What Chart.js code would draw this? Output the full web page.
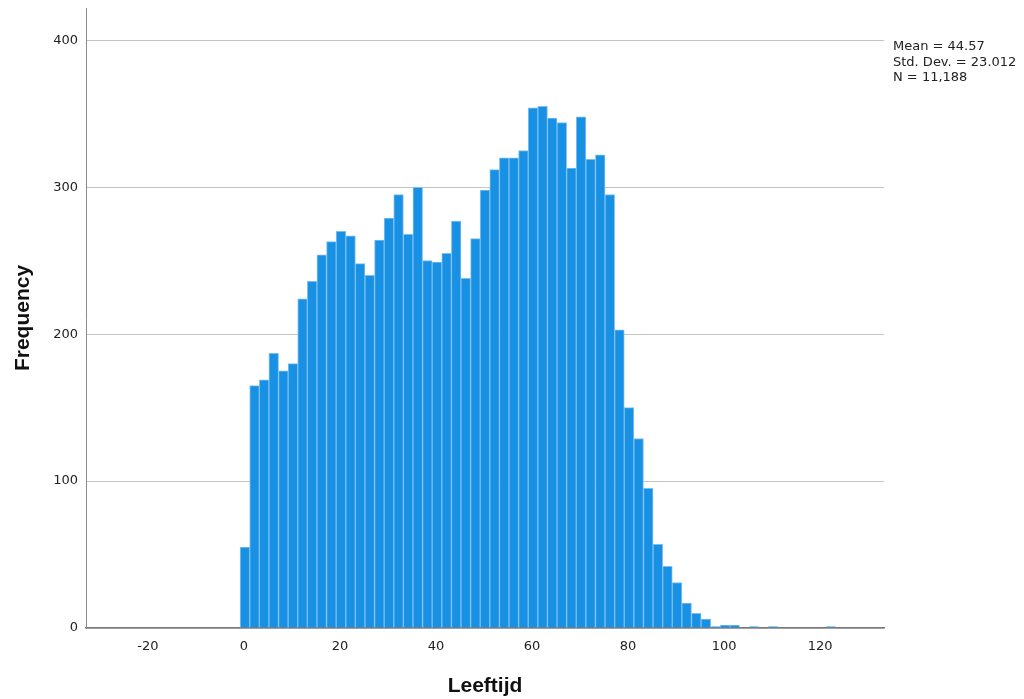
<!DOCTYPE html>
<html>
<head>
<meta charset="utf-8">
<title>Leeftijd</title>
<script src="https://cdn.jsdelivr.net/npm/chart.js@4.4.1/dist/chart.umd.min.js"></script>
<style>
    html, body { margin: 0; padding: 0; background: #fff; }
    #wrap { width: 1024px; height: 699px; position: relative; }
</style>
</head>
<body>
<div id="wrap"><canvas id="hist"></canvas></div>
<script>
// Age histogram (bins of 2 years)
const binStart = -0.8;
const binWidth = 2;
const counts = [
    55, 165, 169, 187, 175, 180, 224, 236, 254, 263,
    270, 267, 248, 240, 264, 279, 295, 268, 300, 250,
    249, 255, 277, 238, 265, 298, 312, 320, 320, 325,
    354, 355, 347, 344, 313, 348, 319, 322, 295, 203,
    150, 129, 95, 57, 42, 31, 17, 10, 6, 1,
    2, 2, 0, 1, 0, 1, 0, 0, 0, 0,
    0, 1
];
const xTicks = [-20, 0, 20, 40, 60, 80, 100, 120];
const yTicks = [0, 100, 200, 300, 400];
const stats = ['Mean = 44.57', 'Std. Dev. = 23.012', 'N = 11,188'];

const tickFont = { family: '"DejaVu Sans", sans-serif', size: 13 };
const titleFont = { family: '"Liberation Sans", Arial, sans-serif', size: 21, weight: 'bold' };

// stats box in the top right corner
const statsBox = {
    id: 'statsBox',
    afterDraw(chart) {
        const ctx = chart.ctx;
        ctx.save();
        ctx.font = '13px "DejaVu Sans", sans-serif';
        ctx.fillStyle = '#222';
        ctx.textAlign = 'left';
        ctx.textBaseline = 'middle';
        stats.forEach((line, i) => {
            ctx.fillText(line, chart.chartArea.right + 9, 47 + i * 15.3);
        });
        ctx.restore();
    }
};

new Chart(document.getElementById('hist'), {
    type: 'bar',
    data: {
        datasets: [{
            data: counts.map((c, i) => ({ x: binStart + binWidth * (i + 0.5), y: c })),
            backgroundColor: '#1890e4',
            borderColor: '#7cc0f0',
            borderWidth: 1,
            barPercentage: 1,
            categoryPercentage: 1
        }]
    },
    options: {
        responsive: true,
        maintainAspectRatio: false,
        animation: false,
        layout: { padding: { left: 0, top: 8, right: 140, bottom: 0 } },
        plugins: {
            legend: { display: false },
            tooltip: { enabled: false }
        },
        scales: {
            x: {
                type: 'linear',
                min: -32.9,
                max: 133.3,
                offset: false,
                afterBuildTicks: s => { s.ticks = xTicks.map(v => ({ value: v })); },
                afterFit: s => { s.height = 71; },
                grid: { display: false, offset: false },
                border: { display: true, color: '#7a7a7a', width: 1.5 },
                ticks: { font: tickFont, color: '#222', padding: 3, maxRotation: 0 },
                title: { display: true, text: 'Leeftijd', font: titleFont, color: '#111', padding: { top: 0, bottom: 0 } }
            },
            y: {
                min: 0,
                max: 422,
                afterBuildTicks: s => { s.ticks = yTicks.map(v => ({ value: v })); },
                afterFit: s => { s.width = 86; s.paddingTop = 0; s.paddingBottom = 0; },
                grid: { color: '#c4c4c4', drawTicks: false },
                border: { display: true, color: '#8a8a8a', width: 1 },
                ticks: { font: tickFont, color: '#222', padding: 8 },
                title: { display: true, text: 'Frequency', font: titleFont, color: '#111', padding: { top: 11, bottom: 0 } }
            }
        }
    },
    plugins: [statsBox]
});
</script>
</body>
</html>
